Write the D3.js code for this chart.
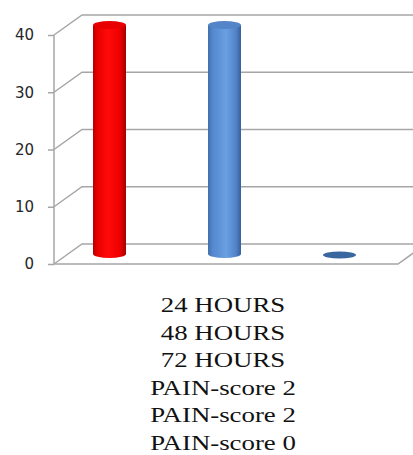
<!DOCTYPE html>
<html>
<head>
<meta charset="utf-8">
<script src="https://cdn.jsdelivr.net/npm/d3@7/dist/d3.min.js"></script>
<style>
  html, body { margin: 0; padding: 0; background: #fff; }
  svg { display: block; }
</style>
</head>
<body>
<svg id="chart" width="413" height="455"></svg>
<script>
// Patients at each time point, with the pain score recorded there
const categories = ["24 HOURS", "48 HOURS", "72 HOURS"];
const values = [40, 40, 0];
const painLabels = ["PAIN-score 2", "PAIN-score 2", "PAIN-score 0"];
const barPalette = ["red", "blue", "blue"];
const yTicks = [0, 10, 20, 30, 40];

const svg = d3.select("#chart");
const defs = svg.append("defs");

// depth of the 3-D box
const depthX = 28, depthY = -20;
const midX = depthX / 2, midY = depthY / 2;

const y = d3.scaleLinear().domain([0, 40]).range([264, 35]);
const x = d3.scaleBand().domain(categories).range([38, 383]).padding(0);

const axisX = 54, wallRight = 440, floorRight = 398;

// shading for the cylinder bodies
const gradients = {
  red: [["0%", "#b30000"], ["12%", "#e60000"], ["45%", "#ff0a0a"], ["80%", "#f00000"], ["100%", "#a80000"]],
  blue: [["0%", "#4270ad"], ["15%", "#5589d0"], ["55%", "#6a9fe2"], ["85%", "#5283c8"], ["100%", "#35609a"]]
};
Object.entries(gradients).forEach(([k, stops]) => {
  const g = defs.append("linearGradient").attr("id", "grad-" + k)
    .attr("x1", "0%").attr("x2", "100%").attr("y1", "0%").attr("y2", "0%");
  stops.forEach(([o, c]) => g.append("stop").attr("offset", o).attr("stop-color", c));
});
const topColor = { red: "#e80000", blue: "#5485c8" };
const flatTopColor = { red: "#c00000", blue: "#3a679f" };

const grid = svg.append("g").attr("fill", "none").attr("stroke", "#a6a6a6").attr("stroke-width", 1.5);

// back-wall grid lines, each joined to the axis by a diagonal
yTicks.forEach(t => {
  const yy = y(t);
  grid.append("path")
    .attr("d", `M${axisX},${yy} L${axisX + depthX},${yy + depthY} L${wallRight},${yy + depthY}`);
});

// front edge of the floor
grid.append("path")
  .attr("d", `M${axisX},${y(0)} L${floorRight},${y(0)} L${floorRight + depthX},${y(0) + depthY}`);

// vertical axis with ticks and labels
const axis = d3.axisLeft(y).tickValues(yTicks).tickSize(6).tickPadding(14);
const axisG = svg.append("g").attr("transform", `translate(${axisX},0)`).call(axis);
axisG.select(".domain").attr("stroke", "#a6a6a6").attr("stroke-width", 1.5)
  .attr("d", `M0,${y(40)}V${y(0)}`);
axisG.selectAll(".tick line").attr("stroke", "#a6a6a6").attr("stroke-width", 1.5);
axisG.selectAll(".tick text")
  .attr("font-family", "'DejaVu Sans', Verdana, sans-serif")
  .attr("font-size", 15).attr("fill", "#262626");

// cylinders, set in the middle of the box depth
const rx = 16.5, ry = 4;
const bars = svg.append("g");
values.forEach((v, i) => {
  const key = barPalette[i];
  const cx = x(categories[i]) + x.bandwidth() / 2 + midX;
  const yBot = y(0) + midY;
  const yTop = y(v) + midY;
  if (yBot - yTop > 0.5) {
    bars.append("path")
      .attr("d", `M${cx - rx},${yTop} L${cx - rx},${yBot} A${rx},${ry} 0 0 0 ${cx + rx},${yBot} L${cx + rx},${yTop} Z`)
      .attr("fill", `url(#grad-${key})`);
    bars.append("ellipse")
      .attr("cx", cx).attr("cy", yTop).attr("rx", rx).attr("ry", ry)
      .attr("fill", topColor[key]);
  } else {
    bars.append("ellipse")
      .attr("cx", cx).attr("cy", yTop + 1).attr("rx", rx).attr("ry", 3.5)
      .attr("fill", flatTopColor[key]);
  }
});

// category and pain-score labels stacked below the chart
const labelLines = categories.concat(painLabels);
const labels = svg.append("g");
labelLines.forEach((t, i) => {
  labels.append("text")
    .attr("transform", `translate(223,${312 + i * 27.6}) scale(1.22,1)`)
    .attr("text-anchor", "middle")
    .attr("font-family", "'Liberation Serif', 'Times New Roman', serif")
    .attr("font-size", 22)
    .attr("fill", "#111")
    .text(t);
});
</script>
</body>
</html>
